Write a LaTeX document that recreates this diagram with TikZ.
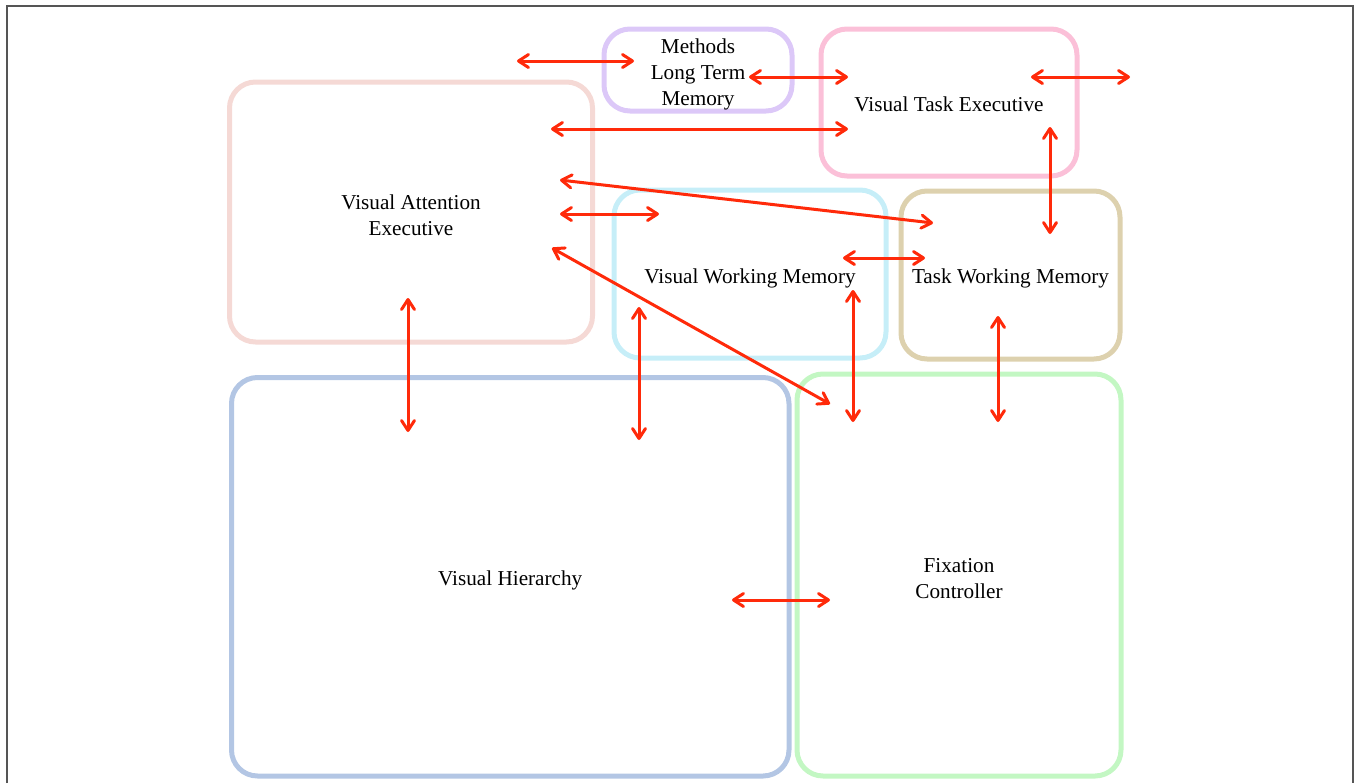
\documentclass[tikz,border=0pt]{standalone}
\usepackage{fontspec}
\setmainfont{Liberation Serif}
\usetikzlibrary{arrows.meta}
\definecolor{vaecol}{HTML}{F5D9D5}
\definecolor{ltmcol}{HTML}{DCC8F8}
\definecolor{vtecol}{HTML}{FBC0D8}
\definecolor{vwmcol}{HTML}{C6EEF8}
\definecolor{twmcol}{HTML}{DDD1AE}
\definecolor{vhcol}{HTML}{B3C6E4}
\definecolor{fccol}{HTML}{C3F7C3}
\definecolor{linkred}{HTML}{FF2A0A}
\definecolor{framegray}{HTML}{555555}
\begin{document}
\begin{tikzpicture}[x=0.5pt,y=-0.5pt]
\tikzstyle{box}=[draw, line width=2.5pt, rounded corners=13pt, inner sep=0pt]
\tikzstyle{tag}=[align=center, inner sep=0pt, font=\fontsize{10.6}{13}\selectfont]
\tikzstyle{link}=[draw=linkred, line width=1.5pt, {Straight Barb[length=5pt,width=6.5pt,round]}-{Straight Barb[length=5pt,width=6.5pt,round]}]
\useasboundingbox (0,0) rectangle (1356,783);
\draw [framegray, line width=1pt] (7,783) -- (7,6) -- (1353,6) -- (1353,783);
\node [box, draw=vaecol, minimum width=181.5pt, minimum height=130pt] (vae) at (411,212) {};
\node [box, draw=ltmcol, minimum width=94pt, minimum height=41pt] (ltm) at (698,70) {};
\node [box, draw=vtecol, minimum width=128pt, minimum height=73.5pt] (vte) at (949,102.5) {};
\node [box, draw=vwmcol, minimum width=136pt, minimum height=84pt] (vwm) at (750,274) {};
\node [box, draw=twmcol, minimum width=109.5pt, minimum height=84pt] (twm) at (1010.5,275) {};
\node [box, draw=vhcol, minimum width=278.75pt, minimum height=199.25pt] (vh) at (510.25,576.75) {};
\node [box, draw=fccol, minimum width=162pt, minimum height=201pt] (fc) at (959,575) {};
\node [tag] (vaeText) at ([yshift=-1.5pt]vae) {Visual Attention\\Executive};
\node [tag] (ltmText) at ([yshift=-2pt]ltm) {Methods\\Long Term\\Memory};
\node [tag] (vteText) at ([yshift=-1pt]vte) {Visual Task Executive};
\node [tag] (vwmText) at ([yshift=-2pt]vwm) {Visual Working Memory};
\node [tag] (twmText) at ([yshift=-1.5pt]twm) {Task Working Memory};
\node [tag] (vhText) at ([yshift=-2pt]vh) {Visual Hierarchy};
\node [tag] (fcText) at ([yshift=-2pt]fc) {Fixation\\Controller};
\coordinate (ltmW) at (517,61);
\coordinate (ltmE) at (634,61);
\coordinate (vteW) at (749,77);
\coordinate (vteE) at (848,77);
\coordinate (outW) at (1031,77);
\coordinate (outE) at (1130,77);
\coordinate (vaeA) at (551,129);
\coordinate (vteA) at (848,129);
\coordinate (vaeB) at (560,180);
\coordinate (twmB) at (933,223);
\coordinate (vaeC) at (560,214);
\coordinate (vwmC) at (659,214);
\coordinate (vaeD) at (552,248);
\coordinate (fcD) at (830,404);
\coordinate (vwmE) at (843,258);
\coordinate (twmE) at (925,258);
\coordinate (vteF) at (1050,127);
\coordinate (twmF) at (1050,234);
\coordinate (vaeG) at (408,298);
\coordinate (vhG) at (408,432);
\coordinate (vwmH) at (639,307);
\coordinate (vhH) at (639,440);
\coordinate (vwmI) at (853,290);
\coordinate (fcI) at (853,422);
\coordinate (twmJ) at (998,316);
\coordinate (fcJ) at (998,422);
\coordinate (vhK) at (732,600);
\coordinate (fcK) at (830,600);
\draw [link] (ltmW) -- (ltmE);
\draw [link] (vteW) -- (vteE);
\draw [link] (outW) -- (outE);
\draw [link] (vaeA) -- (vteA);
\draw [link] (vaeB) -- (twmB);
\draw [link] (vaeC) -- (vwmC);
\draw [link] (vaeD) -- (fcD);
\draw [link] (vwmE) -- (twmE);
\draw [link] (vteF) -- (twmF);
\draw [link] (vaeG) -- (vhG);
\draw [link] (vwmH) -- (vhH);
\draw [link] (vwmI) -- (fcI);
\draw [link] (twmJ) -- (fcJ);
\draw [link] (vhK) -- (fcK);
\end{tikzpicture}
\end{document}
